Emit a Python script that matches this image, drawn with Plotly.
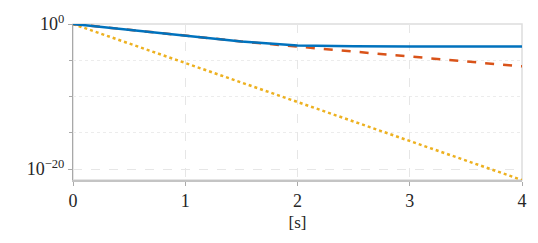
import plotly.graph_objects as go

# data
t = [0, 0.5, 1, 1.5, 2, 2.5, 3, 3.5, 4]
blue_log = [0, -0.83, -1.67, -2.4, -2.95, -3.08, -3.1, -3.1, -3.1]
orange_log = [0, -0.83, -1.67, -2.4, -3.12, -3.82, -4.5, -5.17, -5.84]
yellow_t = [0, 4]
yellow_log = [0, -21.5]

blue = [10 ** v for v in blue_log]
orange = [10 ** v for v in orange_log]
yellow = [10 ** v for v in yellow_log]

x_ticks = [0, 1, 2, 3, 4]
y_major = [1e0, 1e-20]
y_major_text = ["10<sup>0</sup>", "10<sup>−20</sup>"]
y_minor = [1e-5, 1e-10, 1e-15]

FONT = "Liberation Serif, DejaVu Serif, serif"

fig = go.Figure()
fig.add_trace(go.Scatter(x=yellow_t, y=yellow, mode="lines",
                         line=dict(color="#EDB120", width=2.5, dash="dot")))
fig.add_trace(go.Scatter(x=t, y=orange, mode="lines",
                         line=dict(color="#D95319", width=2.5, dash="dash")))
fig.add_trace(go.Scatter(x=t, y=blue, mode="lines",
                         line=dict(color="#0072BD", width=2.5)))

fig.update_layout(
    width=538, height=243,
    margin=dict(l=73, r=16, t=24, b=63, autoexpand=False),
    paper_bgcolor="white", plot_bgcolor="white",
    showlegend=False,
    font=dict(family=FONT, size=17, color="#262626"),
    xaxis=dict(
        range=[0, 4], tickmode="array", tickvals=x_ticks,
        showgrid=True, gridcolor="#e6e6e6", griddash="dash", gridwidth=1,
        showline=True, linecolor="#c4c4c4", linewidth=1.5,
        ticks="outside", ticklen=4, tickcolor="#aaaaaa",
        zeroline=False,
        title=dict(text="[s]", standoff=6, font=dict(family=FONT, size=17)),
        tickfont=dict(family=FONT, size=18),
    ),
    yaxis=dict(
        type="log", range=[-21.5, 0],
        tickmode="array", tickvals=y_major, ticktext=y_major_text,
        showgrid=True, gridcolor="#e6e6e6", griddash="dash", gridwidth=1,
        showline=True, linecolor="#a8a8a8", linewidth=1,
        ticks="outside", ticklen=4, tickcolor="#aaaaaa",
        zeroline=False,
        tickfont=dict(family=FONT, size=18),
        minor=dict(tickmode="array", tickvals=y_minor, showgrid=True,
                   gridcolor="#ececec", griddash="dot", gridwidth=1,
                   ticks="outside", ticklen=3, tickcolor="#aaaaaa"),
    ),
    shapes=[dict(type="rect", xref="paper", yref="paper", x0=0, x1=1, y0=0, y1=1,
                 line=dict(color="#dddddd", width=1.5), layer="below")],
)

fig.write_html("out.html", config={"displayModeBar": False},
               post_script="document.body.style.margin='0px';")
